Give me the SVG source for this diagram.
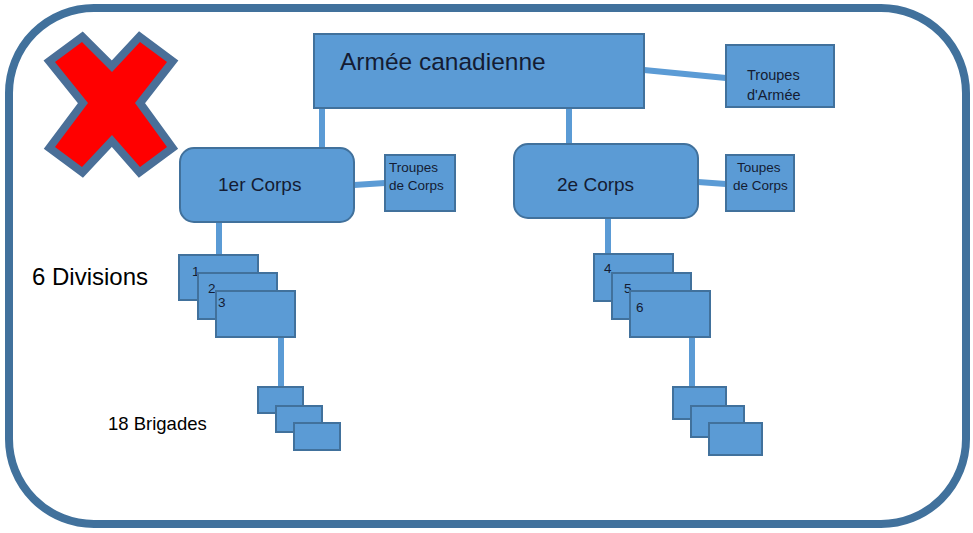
<svg xmlns="http://www.w3.org/2000/svg" width="973" height="533" viewBox="0 0 973 533">
<style>
.box{fill:#5b9bd5;stroke:#41719c;stroke-width:2}
.conn{stroke:#5b9bd5;stroke-width:6;fill:none}
.t{font-family:"Liberation Sans",Arial,sans-serif;fill:#141c33}
.lbl{font-family:"Liberation Sans",Arial,sans-serif;fill:#000}
</style>
<rect x="9" y="8" width="957" height="516" rx="85" ry="85" fill="#fff" stroke="#41719c" stroke-width="8"/>
<g id="cross">
<polygon points="55,62 82,42 112,72 140,42 167,62 135,103 167,147 140,167 112,135 82,167 55,147 88,103" fill="#ff0000" stroke="#4a6f98" stroke-width="16" stroke-linejoin="miter" paint-order="stroke"/>
</g>
<g id="connectors">
<line class="conn" x1="644" y1="70" x2="726" y2="78"/>
<line class="conn" x1="322" y1="108" x2="322" y2="148"/>
<line class="conn" x1="569" y1="108" x2="569" y2="145"/>
<line class="conn" x1="354" y1="185" x2="385" y2="183"/>
<line class="conn" x1="698" y1="182" x2="726" y2="184"/>
<line class="conn" x1="219" y1="222" x2="219" y2="255"/>
<line class="conn" x1="608" y1="218" x2="608" y2="254"/>
<line class="conn" x1="281" y1="337" x2="281" y2="387"/>
<line class="conn" x1="692" y1="337" x2="692" y2="387"/>
</g>
<g id="armee">
<rect class="box" x="314" y="34" width="330" height="74"/>
<text class="t" x="340" y="70" font-size="24.5">Armée canadienne</text>
</g>
<g id="troupes-armee">
<rect class="box" x="726" y="45" width="108" height="62"/>
<text class="t" x="747" y="80" font-size="14.5">Troupes</text>
<text class="t" x="747" y="100" font-size="14.5">d'Armée</text>
</g>
<g id="corps1">
<rect class="box" x="180" y="148" width="174" height="74" rx="14" ry="14"/>
<text class="t" x="218" y="191" font-size="19">1er Corps</text>
</g>
<g id="troupes-corps1">
<rect class="box" x="385" y="155" width="70" height="56"/>
<text class="t" x="389" y="172" font-size="13.5">Troupes</text>
<text class="t" x="389" y="190" font-size="13.5">de Corps</text>
</g>
<g id="corps2">
<rect class="box" x="514" y="144" width="184" height="74" rx="14" ry="14"/>
<text class="t" x="557" y="191" font-size="19">2e Corps</text>
</g>
<g id="troupes-corps2">
<rect class="box" x="726" y="155" width="68" height="56"/>
<text class="t" x="737" y="172" font-size="13.5">Toupes</text>
<text class="t" x="733" y="190" font-size="13.5">de Corps</text>
</g>
<g id="div1">
<rect class="box" x="179" y="255" width="79" height="45"/>
<text class="t" x="192" y="276" font-size="13.5">1</text>
</g>
<g id="div2">
<rect class="box" x="198" y="273" width="79" height="46"/>
<text class="t" x="208" y="293" font-size="13.5">2</text>
</g>
<g id="div3">
<rect class="box" x="216" y="291" width="79" height="46"/>
<text class="t" x="218" y="307" font-size="13.5">3</text>
</g>
<g id="div4">
<rect class="box" x="594" y="254" width="79" height="47"/>
<text class="t" x="604" y="273" font-size="13.5">4</text>
</g>
<g id="div5">
<rect class="box" x="612" y="273" width="79" height="46"/>
<text class="t" x="624" y="293" font-size="13.5">5</text>
</g>
<g id="div6">
<rect class="box" x="630" y="291" width="80" height="46"/>
<text class="t" x="636" y="312" font-size="13.5">6</text>
</g>
<g id="brig1"><rect class="box" x="258" y="387" width="45" height="26"/></g>
<g id="brig2"><rect class="box" x="276" y="406" width="46" height="26"/></g>
<g id="brig3"><rect class="box" x="294" y="423" width="46" height="27"/></g>
<g id="brig4"><rect class="box" x="673" y="387" width="53" height="32"/></g>
<g id="brig5"><rect class="box" x="691" y="406" width="53" height="31"/></g>
<g id="brig6"><rect class="box" x="709" y="423" width="53" height="32"/></g>
<g id="labels">
<text class="lbl" x="32" y="285" font-size="24">6 Divisions</text>
<text class="lbl" x="108" y="430" font-size="18.5">18 Brigades</text>
</g>
</svg>
